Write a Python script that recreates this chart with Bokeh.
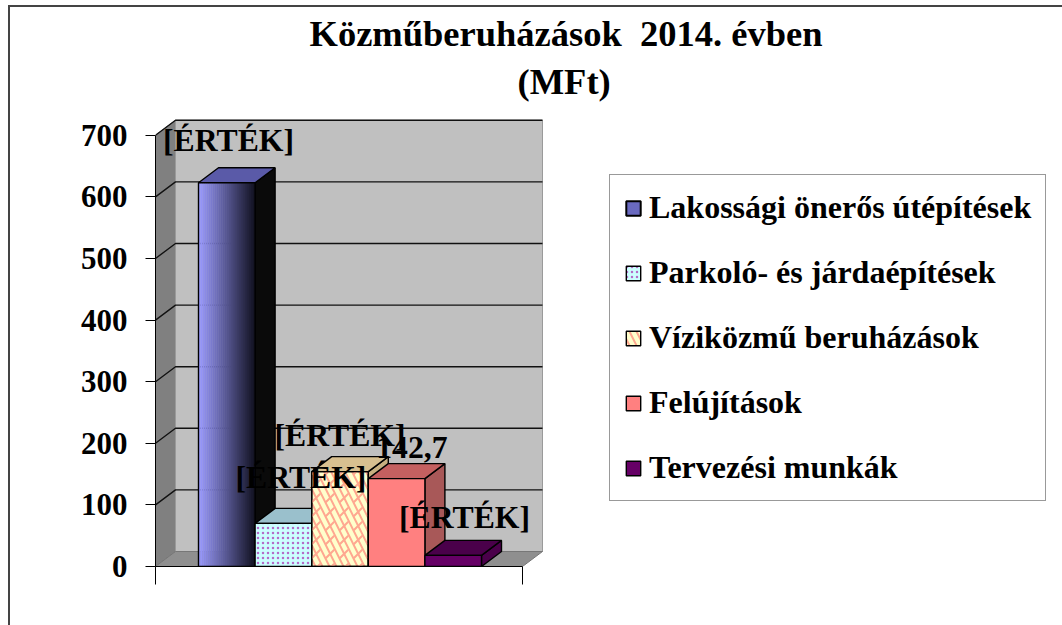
from bokeh.plotting import figure
from bokeh.models import Range1d, FixedTicker, Legend, LegendItem, Title
from bokeh.core.properties import value
from bokeh.embed import file_html
from bokeh.resources import INLINE

TITLE_1 = "Közműberuházások \u00a02014. évben"
TITLE_2 = "(MFt)"
NAMES = ["Lakossági önerős útépítések", "Parkoló- és járdaépítések", "Víziközmű beruházások", "Felújítások", "Tervezési munkák"]
VALUES = [623, 70, 154, 142.7, 18]
LABELS = ["[ÉRTÉK]", "[ÉRTÉK]", "[ÉRTÉK]", "142,7", "[ÉRTÉK]"]
TICKS = [0, 100, 200, 300, 400, 500, 600, 700]
FONT = "Liberation Serif"

W, H = 1062, 625
FL, FR, FT, FB = 155, 1062, 118, 566   # frame in figure px
PX = 56.6           # px per category
PY = 0.616          # px per unit
X0 = (198 - FL) / PX       # distance of first bar from frame left, in categories
DX, DY = 20 / PX, 15 / PY  # 3-D depth

p = figure(width=W, height=H, output_backend="svg", toolbar_location=None,
           x_range=Range1d(-X0, -X0 + (FR - FL) / PX),
           y_range=Range1d(0, (FB - FT) / PY),
           min_border_left=FL, min_border_right=W - FR, min_border_top=FT, min_border_bottom=H - FB)
p.outline_line_color = None
p.grid.visible = False
p.border_fill_color = None
p.background_fill_color = None

# outer chart border (only top and left are visible in the picture)
p.styles = {"background-image": "linear-gradient(#444,#444),linear-gradient(#444,#444)",
            "background-size": "100% 2px, 2px 100%",
            "background-position": "8px 5px, 8px 5px",
            "background-repeat": "no-repeat"}

# walls
xl, xr = -X0, -X0 + 367 / PX
top = TICKS[-1]
p.patch([xl, xl + DX, xl + DX, xl], [0, DY, top + DY, top], color="#808080", line_color="#777777")
p.patch([xl + DX, xr + DX, xr + DX, xl + DX], [DY, DY, top + DY, top + DY], fill_color="#c0c0c0", line_color="#9a9a9a")
p.patch([xl, xr, xr + DX, xl + DX], [0, 0, DY, DY], fill_color="#8f8f8f", line_color="#777777")
p.multi_line([[xl, xl + DX, xr + DX] for t in TICKS[1:]], [[t, t + DY, t + DY] for t in TICKS[1:]],
             line_color="#111111", line_width=1.4)

# bars
COLS = ["#9999ff", "#ccffff", "#ffffcc", "#ff8080", "#660066"]
TOPC = ["#5a5aa8", "#9ac0cc", "#d8c090", "#c46060", "#4a004a"]
SIDE = ["#0a0a0a", "#8aa8b0", "#c8b080", "#a85858", "#4a004a"]
for i, v in enumerate(VALUES):
    x1 = i + 1
    p.patch([x1, x1 + DX, x1 + DX, x1], [0, DY, v + DY, v], fill_color=SIDE[i], line_color="black", line_width=1.4)
    p.patch([i, x1, x1 + DX, i + DX], [v, v, v + DY, v + DY], fill_color=TOPC[i], line_color="black", line_width=1.4)

# gradient for first bar
N = 28
def mix(t):
    a, b = (0x99, 0x99, 0xff), (0x14, 0x14, 0x24)
    return "#%02x%02x%02x" % tuple(int(a[k] + (b[k] - a[k]) * t) for k in range(3))
for s in range(N):
    p.vbar(x=[(s + .5) / N], top=[VALUES[0]], width=1 / N + .005, bottom=0, fill_color=mix(s / (N - 1)), line_color=None)
p.vbar(x=[.5], top=[VALUES[0]], width=1, bottom=0, fill_color=None, line_color="black", line_width=1.4)

r1 = p.vbar(x=[1.5], top=[VALUES[1]], width=1, bottom=0, fill_color=COLS[1], line_color="black", line_width=1.4,
            hatch_pattern="dot", hatch_color="#b46cc8", hatch_scale=5, hatch_weight=1.5)
r2 = p.vbar(x=[2.5], top=[VALUES[2]], width=1, bottom=0, fill_color=COLS[2], line_color="black", line_width=1.4,
            hatch_pattern="left_diagonal_line", hatch_color="#ffa890", hatch_scale=14, hatch_weight=2)
p.vbar(x=[2.5], top=[VALUES[2]], width=1, bottom=0, fill_color=None, line_color="black", line_width=1.4,
       hatch_pattern="right_diagonal_dash", hatch_color="#ffa890", hatch_scale=14, hatch_weight=2)
r3 = p.vbar(x=[3.5], top=[VALUES[3]], width=1, bottom=0, fill_color=COLS[3], line_color="black", line_width=1.4)
r4 = p.vbar(x=[4.5], top=[VALUES[4]], width=1, bottom=0, fill_color=COLS[4], line_color="black", line_width=1.4)

# legend swatch for the gradient series
r0l = p.vbar(x=[.5], top=[0], width=0, bottom=0, fill_color="#6a6ac0", line_color="black", line_width=2)

# data labels
LX = [.53, 1.81, 2.5, 3.77, 4.7]
LY = [VALUES[0] + 68, VALUES[1] + 75, VALUES[2] + 58, VALUES[3] + 50, VALUES[4] + 62]
p.text(x=LX, y=LY, text=LABELS, text_font=value(FONT), text_font_style="bold", text_font_size="31.7px",
       text_align="center", text_baseline="middle", text_color="black")

# axes
ya = p.yaxis[0]
ya.ticker = FixedTicker(ticks=TICKS)
ya.bounds = (0, top)
ya.major_tick_out, ya.major_tick_in, ya.minor_tick_out, ya.minor_tick_in = 10, 0, 0, 0
ya.axis_line_color = "black"
ya.major_tick_line_color = "black"
ya.major_label_text_font = FONT
ya.major_label_text_font_style = "bold"
ya.major_label_text_font_size = "31px"
ya.major_label_text_color = "black"
ya.major_label_standoff = 18

xa = p.xaxis[0]
xa.ticker = FixedTicker(ticks=[xl, xr])
xa.bounds = (xl, xr)
xa.major_tick_out, xa.major_tick_in, xa.minor_tick_out, xa.minor_tick_in = 18, 0, 0, 0
xa.axis_line_color = "black"
xa.major_tick_line_color = "black"
xa.major_label_overrides = {xl: "", xr: ""}

# title
p.title = None
for txt, off, st in [(TITLE_2, 362, 33), (TITLE_1, 154, -23)]:
    p.add_layout(Title(text=txt, text_font=FONT, text_font_style="bold", text_font_size="36.5px",
                       text_color="black", align="left", offset=off, standoff=st), "above")

# legend
legend = Legend(items=[LegendItem(label=n, renderers=[r]) for n, r in zip(NAMES, [r0l, r1, r2, r3, r4])],
                location=(609 - FL, FB - 501), orientation="vertical", margin=0,
                label_text_font=FONT, label_text_font_style="bold", label_text_font_size="32px",
                label_text_color="black", glyph_width=18, glyph_height=18, spacing=28, padding=14,
                border_line_color="#333333", border_line_width=1.5, background_fill_color="white",
                background_fill_alpha=1, label_standoff=7)
p.add_layout(legend)

open("out.html", "w").write(file_html(p, INLINE))
